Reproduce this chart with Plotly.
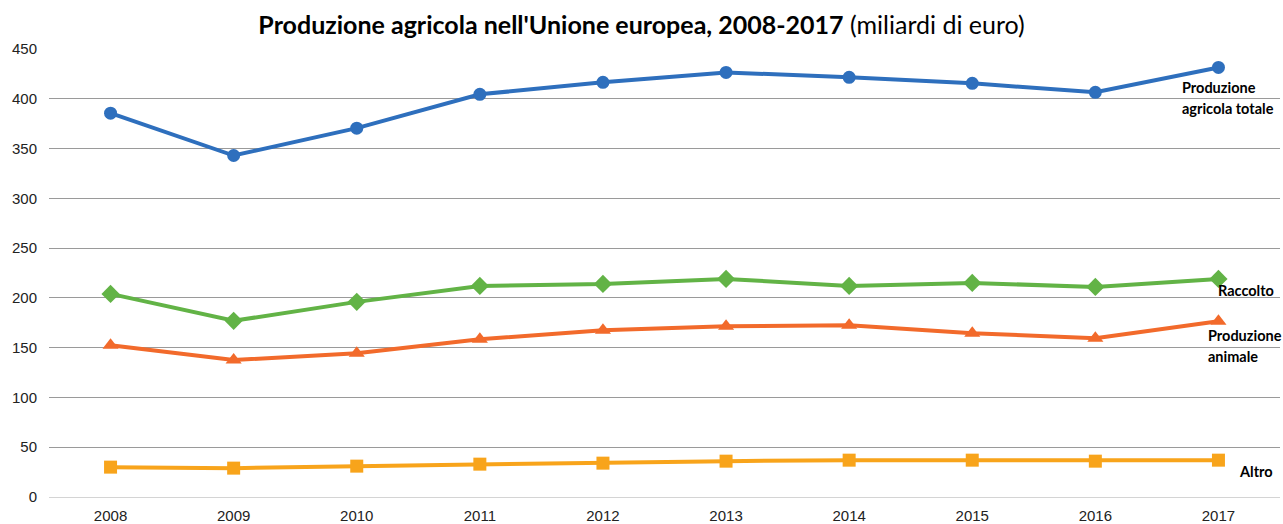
import plotly.graph_objects as go

years = ["2008", "2009", "2010", "2011", "2012", "2013", "2014", "2015", "2016", "2017"]
totale = [385.5, 343, 370.5, 404.5, 416.5, 426.5, 421.5, 415.5, 406.5, 431.5]
raccolto = [204, 177, 196, 212, 214, 219, 212, 215, 211, 219]
animale = [152.5, 137.5, 144.5, 158.5, 167.5, 171.5, 172.5, 164.5, 159.5, 176.5]
altro = [30, 29, 31, 33, 34, 36, 37, 37, 36, 37]

series = [
    ("Produzione agricola totale", totale, "#2e6fbd", "circle", 13),
    ("Raccolto", raccolto, "#62b346", "diamond", 14),
    ("Produzione animale", animale, "#f26a2b", "triangle-up", 14),
    ("Altro", altro, "#f8a41b", "square", 13),
]

fig = go.Figure()
for name, vals, color, sym, size in series:
    fig.add_trace(go.Scatter(
        x=years, y=vals, name=name, mode="lines+markers",
        line=dict(color=color, width=4),
        marker=dict(symbol=sym, size=size, color=color),
    ))

# end-of-line labels: (text, y value, x pixel shift from the 2017 point)
label_lines = [
    ("Produzione", 411, -38),
    ("agricola totale", 390.5, -38),
    ("Raccolto", 207, -2),
    ("Produzione", 162.5, -12),
    ("animale", 141.5, -12),
    ("Altro", 26, 19),
]
for text, yv, xs in label_lines:
    fig.add_annotation(x=len(years) - 1, y=yv, text="<b>" + text + "</b>",
                       showarrow=False, xanchor="left", yanchor="middle",
                       xshift=xs, font=dict(family="Lato", size=14.5, color="#000"))

fig.update_layout(
    width=1283, height=524,
    margin=dict(l=49, r=3, t=49, b=27),
    paper_bgcolor="white", plot_bgcolor="white",
    showlegend=False,
    title=dict(
        text="<b>Produzione agricola nell'Unione europea, 2008-2017</b> (miliardi di euro)",
        x=0.5, xanchor="center", y=0.952, yanchor="middle",
        font=dict(family="Lato", size=25, color="#000"),
    ),
    xaxis=dict(
        type="category", range=[-0.5, 9.5], showgrid=False, showline=False,
        ticks="", ticklabelstandoff=8, automargin=False,
        tickfont=dict(family="Liberation Sans", size=15, color="#222"),
    ),
    yaxis=dict(
        range=[0, 450], tick0=0, dtick=50, showgrid=True, gridcolor="#9a9a9a",
        gridwidth=1, zeroline=True, zerolinecolor="#d4d4d4", zerolinewidth=1,
        ticks="", ticklabelstandoff=11, automargin=False,
        tickfont=dict(family="Liberation Sans", size=15, color="#222"),
    ),
)
fig.write_html("out.html", config={"displayModeBar": False},
               post_script="document.body.style.margin='0';")
